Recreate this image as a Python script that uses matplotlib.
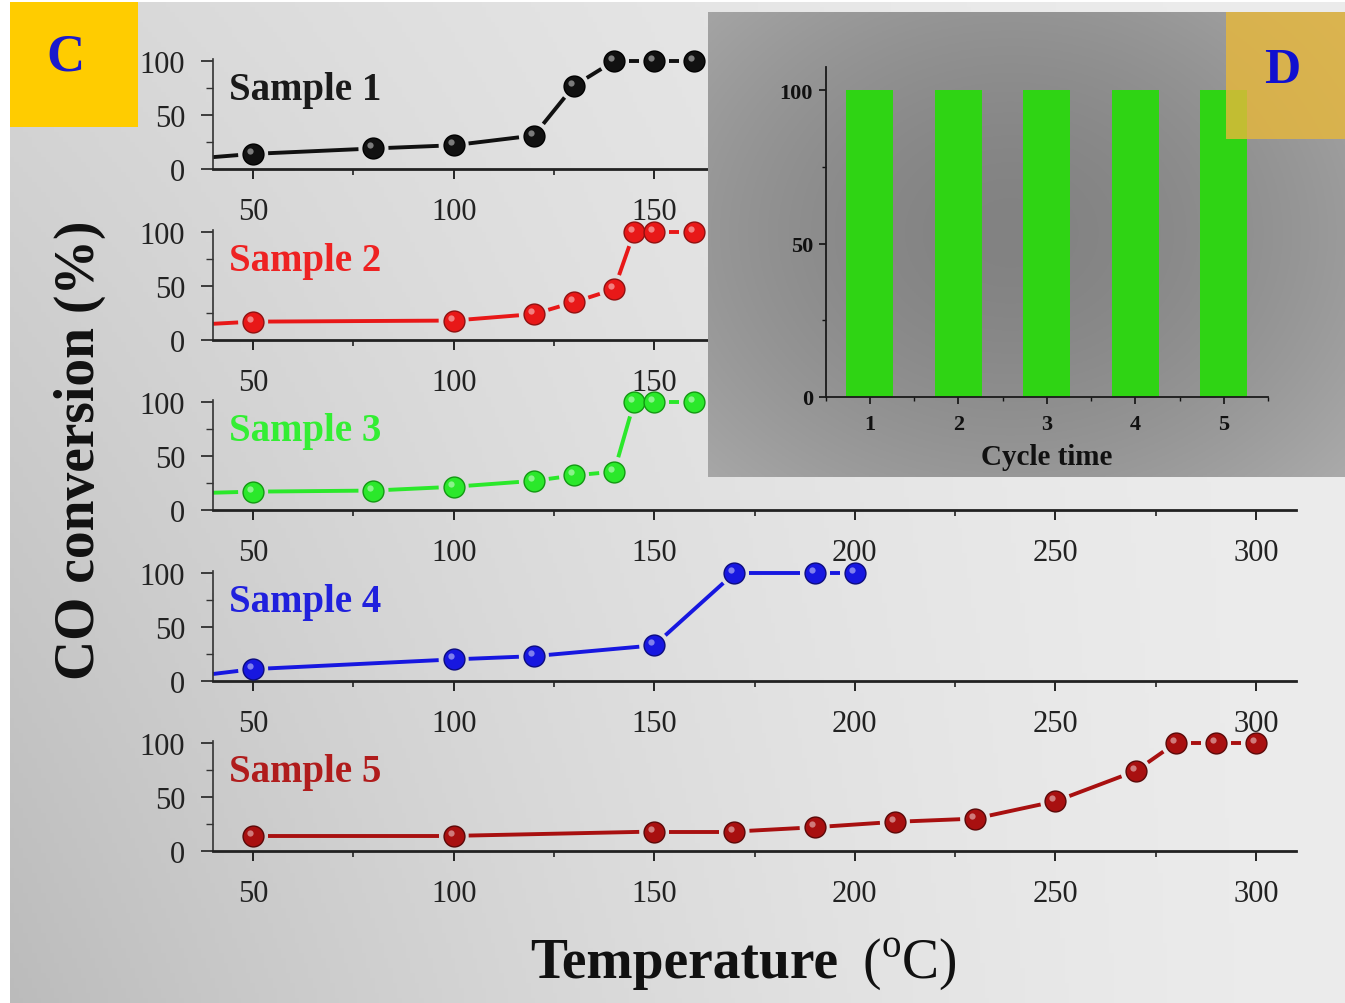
import numpy as np
import matplotlib
matplotlib.use("Agg")
import matplotlib.pyplot as plt
from matplotlib.patches import Rectangle
from matplotlib.transforms import offset_copy
from matplotlib.ticker import MultipleLocator

plt.rcParams['font.family'] = ['Liberation Serif', 'DejaVu Serif']
plt.rcParams['mathtext.fontset'] = 'custom'
plt.rcParams['mathtext.rm'] = 'Liberation Serif'

# ---------------- data ----------------
sample_names = ["Sample 1", "Sample 2", "Sample 3", "Sample 4", "Sample 5"]
temps1 = [50, 80, 100, 120, 130, 140, 150, 160]
conv1 = [14, 19, 22, 31, 77, 100, 100, 100]
start1 = 11
temps2 = [50, 100, 120, 130, 140, 145, 150, 160]
conv2 = [17, 18, 24, 35, 47, 100, 100, 100]
start2 = 15
temps3 = [50, 80, 100, 120, 130, 140, 145, 150, 160]
conv3 = [17, 18, 21.5, 27, 32, 35.5, 100, 100, 100]
start3 = 16
temps4 = [50, 100, 120, 150, 170, 190, 200]
conv4 = [11, 20, 23, 33, 100, 100, 100]
start4 = 6.5
temps5 = [50, 100, 150, 170, 190, 210, 230, 250, 270, 280, 290, 300]
conv5 = [14, 14, 18, 18, 22, 27, 30, 46, 74, 100, 100, 100]
start5 = None

x_ticks = [50, 100, 150, 200, 250, 300]
y_ticks = [0, 50, 100]

cycles = [1, 2, 3, 4, 5]
cycle_conv = [100, 100, 100, 100, 100]
cycle_yticks = [0, 50, 100]

series_colors = ['#111111', '#e81818', '#2be82b', '#1717e0', '#a81010']
label_colors = ['#1a1a1a', '#ee2222', '#33ee33', '#2020dd', '#b01c1c']
edge_colors = ['#000000', '#901010', '#119911', '#0b0b80', '#5a0808']

W, H = 1345, 1004
fig = plt.figure(figsize=(W / 100, H / 100), dpi=100)
fig.patch.set_facecolor('white')

def fx(px):
    return px / W

def fy(py):
    return 1 - py / H

# ---------------- main background gradient ----------------
bg = fig.add_axes([fx(10), 0, 1 - fx(10), fy(3)], zorder=0)
gx = np.linspace(0, 1, 300)
gy = np.linspace(0, 1, 200)
GX, GY = np.meshgrid(gx, gy)
v = 0.925 - 0.19 * (1 - GX) ** 1.6 * (0.45 + 0.55 * GY)
bg.imshow(np.dstack([v, v, v]), extent=[0, 1, 0, 1], aspect='auto', origin='upper')
bg.set_axis_off()

# ---------------- main panels ----------------
xs_all = [temps1, temps2, temps3, temps4, temps5]
ys_all = [conv1, conv2, conv3, conv4, conv5]
starts = [start1, start2, start3, start4, start5]
bottoms_px = [170, 341, 511, 682, 852]
ax_left, ax_right = 213, 1296
px_per_unit = 1.08
ytop = 102
ax_h = ytop * px_per_unit

axes = []
for i in range(5):
    b = bottoms_px[i]
    ax = fig.add_axes([fx(ax_left), fy(b), fx(ax_right - ax_left), ax_h / H], zorder=1)
    ax.set_facecolor('none')
    ax.set_xlim(40, 310)
    ax.set_ylim(0, ytop)
    for s in ['top', 'right']:
        ax.spines[s].set_visible(False)
    ax.spines['bottom'].set_linewidth(2.0)
    ax.spines['left'].set_linewidth(1.2)
    ax.spines['bottom'].set_color('#222222')
    ax.spines['left'].set_color('#333333')
    ax.set_xticks(x_ticks)
    ax.set_yticks(y_ticks)
    ax.xaxis.set_minor_locator(MultipleLocator(25))
    ax.yaxis.set_minor_locator(MultipleLocator(25))
    ax.tick_params(axis='x', which='major', direction='out', length=7, width=1.4,
                   labelsize=22, pad=13, colors='#222222')
    ax.tick_params(axis='x', which='minor', direction='out', length=4, width=1.2, colors='#222222')
    ax.tick_params(axis='y', which='major', direction='out', length=9, width=1.2,
                   labelsize=22, pad=11, colors='#222222')
    ax.tick_params(axis='y', which='minor', direction='out', length=5, width=1.0, colors='#333333')
    axes.append(ax)

gap_px = 15

for i, ax in enumerate(axes):
    xs = list(xs_all[i])
    ys = list(ys_all[i])
    col = series_colors[i]
    pts = list(zip(xs, ys))
    is_marker = [True] * len(pts)
    if starts[i] is not None:
        pts = [(40, starts[i])] + pts
        is_marker = [False] + is_marker
    disp = ax.transData.transform(np.array(pts, dtype=float))
    inv = ax.transData.inverted()
    for k in range(len(disp) - 1):
        p0, p1 = disp[k], disp[k + 1]
        d = p1 - p0
        L = np.hypot(*d)
        u = d / L
        g0 = gap_px if is_marker[k] else 0
        g1 = gap_px if is_marker[k + 1] else 0
        if L > g0 + g1 + 2:
            a = inv.transform(p0 + u * g0)
            bb = inv.transform(p1 - u * g1)
            ax.plot([a[0], bb[0]], [a[1], bb[1]], color=col, lw=2.8,
                    solid_capstyle='butt', clip_on=False, zorder=2)
    ax.plot(xs, ys, 'o', ms=15, mfc=col, mec=edge_colors[i], mew=1.0,
            clip_on=False, zorder=3)
    hl = offset_copy(ax.transData, fig=fig, x=-3, y=3, units='dots')
    ax.plot(xs, ys, 'o', ms=4.5, mfc='white', mec='none', alpha=0.45,
            transform=hl, clip_on=False, zorder=4)
    ax.text(44, 74, sample_names[i], color=label_colors[i], fontsize=28,
            fontweight='bold', ha='left', va='center', zorder=5)

# axis titles
fig.text(fx(80), fy(450), 'CO conversion (%)', rotation=90, ha='center', va='center',
         fontsize=40, fontweight='bold', color='#111111')
fig.text(fx(838), fy(978), 'Temperature', ha='right', va='baseline',
         fontsize=40, fontweight='bold', color='#111111')
fig.text(fx(862), fy(978), r'($^{\mathrm{o}}$C)', ha='left', va='baseline',
         fontsize=40, color='#111111')

# C label box
fig.patches.append(Rectangle((fx(10), fy(128)), fx(128), (128 - 3) / H,
                             transform=fig.transFigure, facecolor='#ffcc00',
                             edgecolor='none', zorder=2))
fig.text(fx(65), fy(58), 'C', ha='center', va='center', fontsize=38,
         fontweight='bold', color='#1a1acc', zorder=3)

# ---------------- inset D ----------------
ibg = fig.add_axes([fx(708), fy(478), 1 - fx(708), (478 - 13) / H], zorder=5)
ix = np.linspace(-1, 1, 300)
iy = np.linspace(-1, 1, 220)
IX, IY = np.meshgrid(ix, iy)
R = np.sqrt(((IX + 0.05) / 1.0) ** 2 + ((IY + 0.05) / 1.1) ** 2)
iv = 0.51 + 0.09 * np.clip(R, 0, 1.4) ** 1.6
ibg.imshow(np.dstack([iv, iv, iv]), extent=[0, 1, 0, 1], aspect='auto', origin='upper')
ibg.set_axis_off()

iax = fig.add_axes([fx(825.5), fy(398), fx(1268 - 825.5), (398 - 68) / H], zorder=6)
iax.set_facecolor('none')
iax.bar(cycles, cycle_conv, width=0.53, color='#2fd414', edgecolor='none', zorder=2)
iax.set_xlim(0.5, 5.5)
iax.set_ylim(0, 107.5)
for s in ['top', 'right']:
    iax.spines[s].set_visible(False)
for s in ['left', 'bottom']:
    iax.spines[s].set_linewidth(1.3)
    iax.spines[s].set_color('#1a1a1a')
iax.set_xticks(cycles)
iax.set_yticks(cycle_yticks)
iax.xaxis.set_minor_locator(MultipleLocator(0.5))
iax.yaxis.set_minor_locator(MultipleLocator(25))
iax.tick_params(axis='both', which='major', direction='out', length=5, width=1.2,
                labelsize=16, colors='#111111')
iax.tick_params(axis='x', which='major', pad=7)
iax.tick_params(axis='y', which='major', pad=4)
iax.tick_params(axis='both', which='minor', direction='out', length=3, width=1.0, colors='#111111')
for lab in iax.get_xticklabels() + iax.get_yticklabels():
    lab.set_fontweight('bold')
iax.set_xlabel('Cycle time', fontsize=21, fontweight='bold', color='#111111', labelpad=7)

# D label box (semi-transparent)
fig.patches.append(Rectangle((fx(1226), fy(140)), 1 - fx(1226), (140 - 13) / H,
                             transform=fig.transFigure, facecolor='#e8b83a',
                             alpha=0.8, edgecolor='none', zorder=7))
fig.text(fx(1282), fy(71), 'D', ha='center', va='center', fontsize=36,
         fontweight='bold', color='#1010d0', zorder=8)

fig.savefig('out.png', dpi=100)
